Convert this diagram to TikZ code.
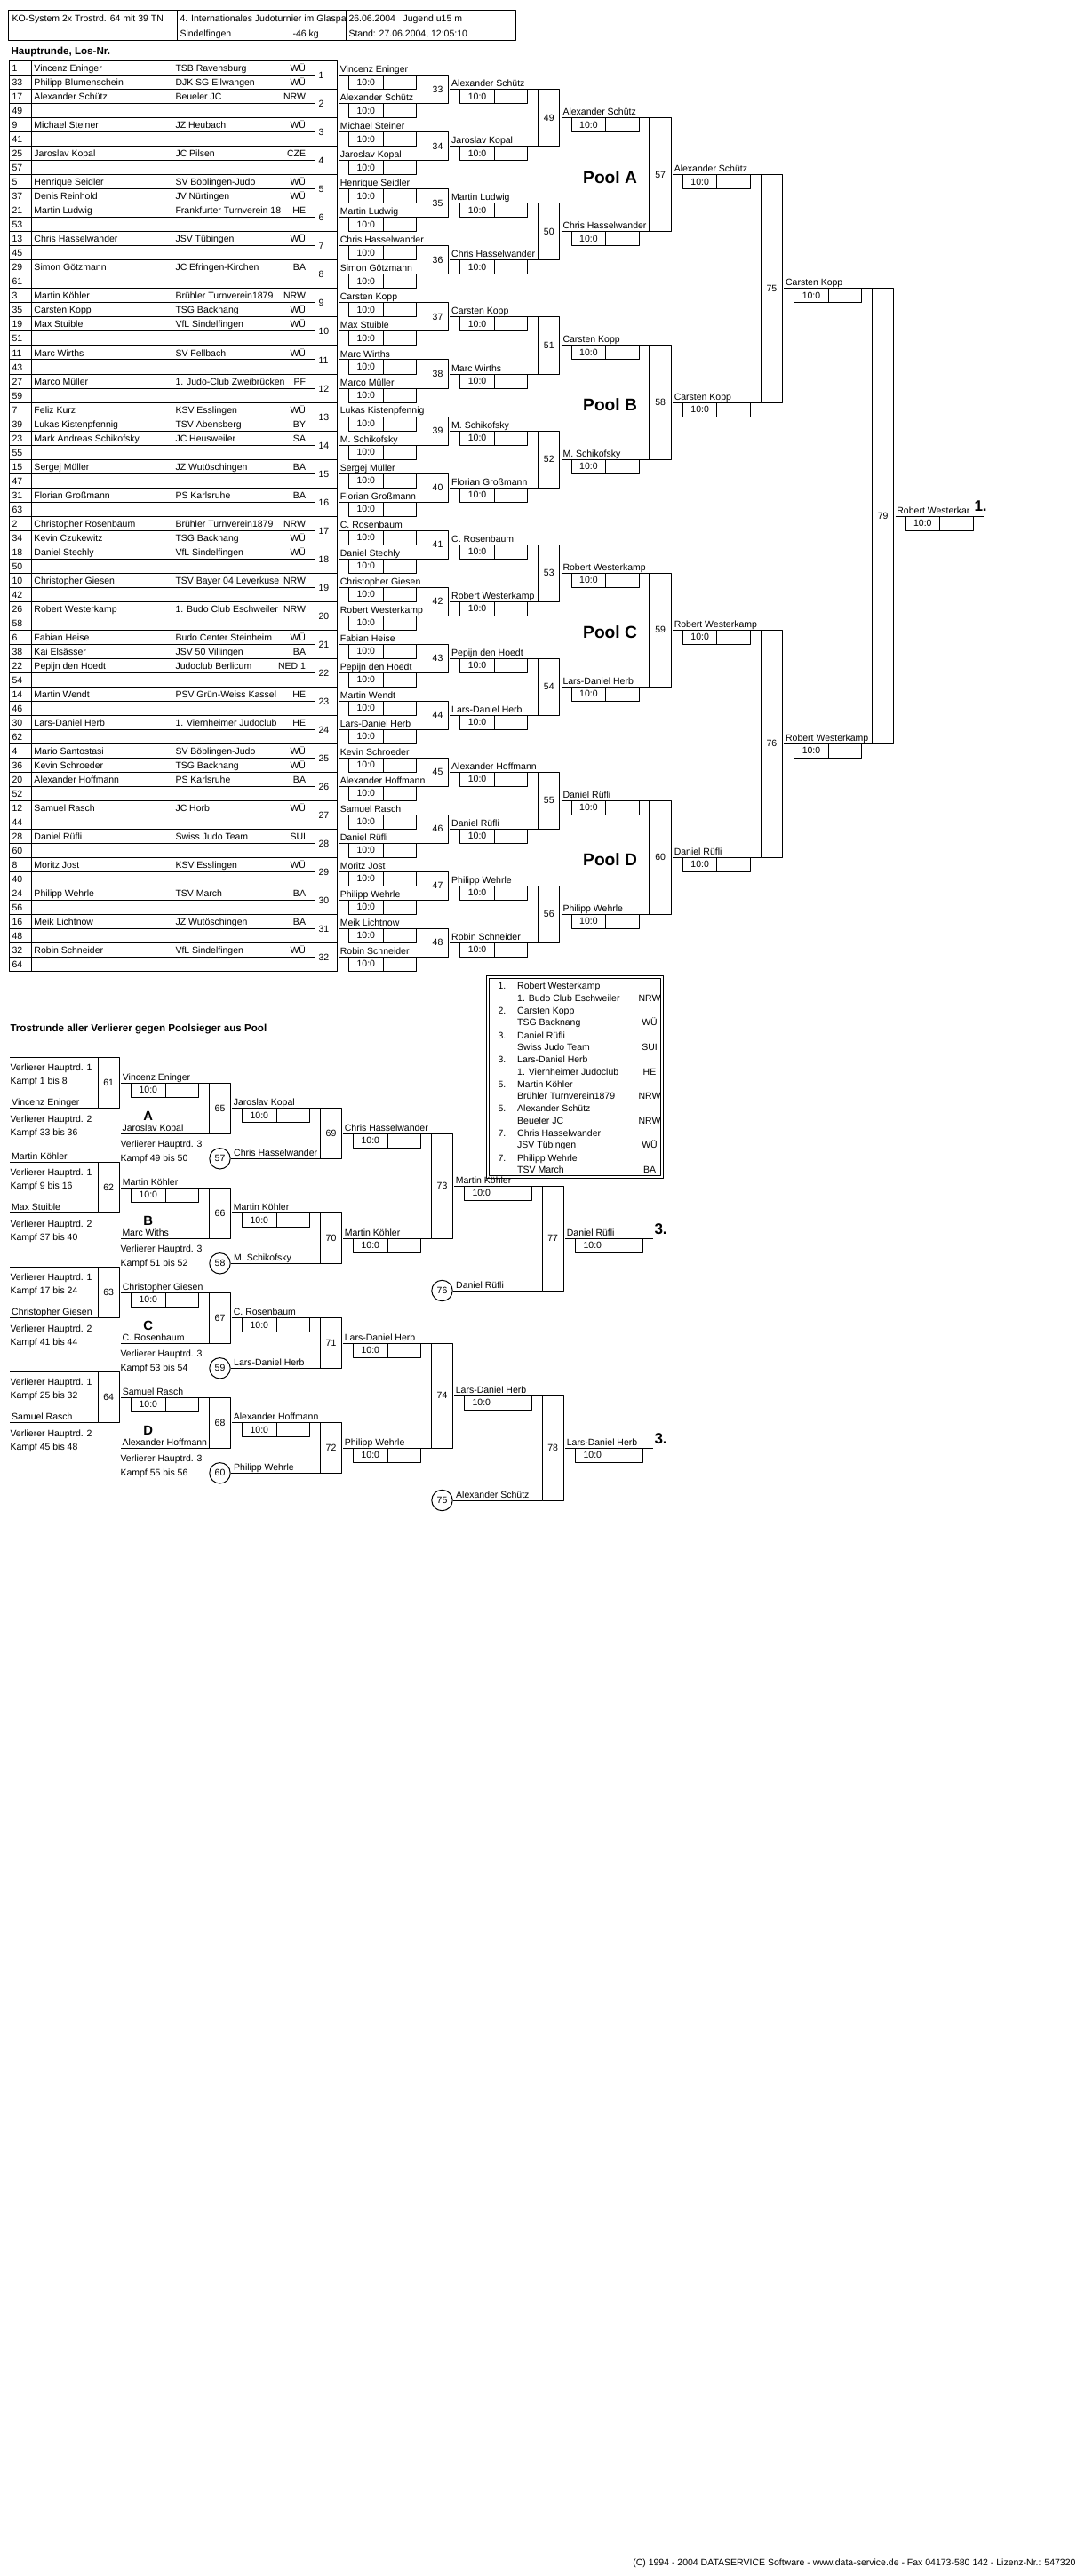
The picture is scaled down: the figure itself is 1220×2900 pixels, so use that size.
\documentclass[tikz,border=0pt]{standalone}
\usepackage{fontspec}
\setmainfont{Liberation Sans}
\begin{document}
\begin{tikzpicture}[x=0.5pt,y=-0.5pt,line width=0.5pt,line join=round,
	txt/.style={font=\fontsize{5.25}{6}\selectfont,inner sep=0pt},
	nm/.style={txt,anchor=base west},
	st/.style={txt,anchor=base east},
	ctr/.style={txt,anchor=center},
	kreis/.style={circle,draw,txt,minimum size=11.7pt},
	ttl/.style={font=\fontsize{5.8}{7}\selectfont\bfseries,inner sep=0pt,anchor=base west},
	pool/.style={font=\fontsize{9.6}{11}\selectfont\bfseries,inner sep=0pt,anchor=base west},
	grp/.style={font=\fontsize{7.4}{9}\selectfont\bfseries,inner sep=0pt,anchor=base},
	rank/.style={font=\fontsize{8.5}{10}\selectfont\bfseries,inner sep=0pt,anchor=base west}]
				\def \xa{381};
				\def \xb{506.3};
				\def \xc{631.6};
				\def \xd{756.9};
				\def \xe{882.2};
				\def \xf{1007.5};
				\def \bout#1#2#3#4{\draw (#1,#2) -- ++(99.3,0);
					\draw (#1+11.6,#2) rectangle ++(76,16) (#1+50,#2) -- ++(0,16);
					\node[nm] (#4) at (#1+1.4,#2-3) {#3};
					\node[ctr] (s#4) at (#1+30.8,#2+8.3) {10:0};}
				\useasboundingbox (0,0) rectangle (1220,2900);
				\draw (9,12) rectangle (580,46) (199,12) -- (199,46) (389,12) -- (389,46);
				\node[nm] (ko) at (13,25) {KO-System 2x Trostrd. 64 mit 39 TN};
				\begin{scope}
					\clip (199,12) rectangle (389,46);
					\node[nm] (turnier) at (202,25) {4. Internationales Judoturnier im Glaspa};
				\end{scope}
				\node[nm] (ort) at (202,42) {Sindelfingen};
				\node[nm] (gewicht) at (329,42) {-46 kg};
				\node[nm] (datum) at (392,25) {26.06.2004};
				\node[nm] (klasse) at (453,25) {Jugend u15 m};
				\node[nm] (stand) at (392,42) {Stand: 27.06.2004, 12:05:10};
				\node[ttl] (haupt) at (12,62) {Hauptrunde, Los-Nr.};
				\draw (10,69) rectangle (354,1093) (354,69) rectangle (379,1093) (35,69) -- (35,1093);
				\foreach \i in {1,...,63} \draw (10,69+16*\i) -- (354,69+16*\i);
				\foreach \i in {1,...,31} \draw (354,69+32*\i) -- (379,69+32*\i);
				\foreach \los/\tn/\club/\lv [count=\i from 0] in {1/Vincenz Eninger/TSB Ravensburg/WÜ, 33/Philipp Blumenschein/DJK SG Ellwangen/WÜ,
					17/Alexander Schütz/Beueler JC/NRW, 49///, 9/Michael Steiner/JZ Heubach/WÜ, 41///,
					25/Jaroslav Kopal/JC Pilsen/CZE, 57///, 5/Henrique Seidler/SV Böblingen-Judo/WÜ, 37/Denis Reinhold/JV Nürtingen/WÜ,
					21/Martin Ludwig/Frankfurter Turnverein 18/HE, 53///, 13/Chris Hasselwander/JSV Tübingen/WÜ, 45///,
					29/Simon Götzmann/JC Efringen-Kirchen/BA, 61///, 3/Martin Köhler/Brühler Turnverein1879/NRW, 35/Carsten Kopp/TSG Backnang/WÜ,
					19/Max Stuible/VfL Sindelfingen/WÜ, 51///, 11/Marc Wirths/SV Fellbach/WÜ, 43///,
					27/Marco Müller/1. Judo-Club Zweibrücken/PF, 59///, 7/Feliz Kurz/KSV Esslingen/WÜ, 39/Lukas Kistenpfennig/TSV Abensberg/BY,
					23/Mark Andreas Schikofsky/JC Heusweiler/SA, 55///, 15/Sergej Müller/JZ Wutöschingen/BA, 47///,
					31/Florian Großmann/PS Karlsruhe/BA, 63///, 2/Christopher Rosenbaum/Brühler Turnverein1879/NRW, 34/Kevin Czukewitz/TSG Backnang/WÜ,
					18/Daniel Stechly/VfL Sindelfingen/WÜ, 50///, 10/Christopher Giesen/TSV Bayer 04 Leverkuse/NRW, 42///,
					26/Robert Westerkamp/1. Budo Club Eschweiler/NRW, 58///, 6/Fabian Heise/Budo Center Steinheim/WÜ, 38/Kai Elsässer/JSV 50 Villingen/BA,
					22/Pepijn den Hoedt/Judoclub Berlicum/NED 1, 54///, 14/Martin Wendt/PSV Grün-Weiss Kassel/HE, 46///,
					30/Lars-Daniel Herb/1. Viernheimer Judoclub/HE, 62///, 4/Mario Santostasi/SV Böblingen-Judo/WÜ, 36/Kevin Schroeder/TSG Backnang/WÜ,
					20/Alexander Hoffmann/PS Karlsruhe/BA, 52///, 12/Samuel Rasch/JC Horb/WÜ, 44///,
					28/Daniel Rüfli/Swiss Judo Team/SUI, 60///, 8/Moritz Jost/KSV Esslingen/WÜ, 40///,
					24/Philipp Wehrle/TSV March/BA, 56///, 16/Meik Lichtnow/JZ Wutöschingen/BA, 48///,
					32/Robin Schneider/VfL Sindelfingen/WÜ, 64///}
				{\node[nm] (los\i) at (13,81+16*\i) {\los};
					\node[nm] (tn\i) at (38,81+16*\i) {\tn};
					\node[nm] (club\i) at (197,81+16*\i) {\club};
					\node[st] (lv\i) at (344.5,81+16*\i) {\lv};}
				\foreach \k in {1,...,32} \node[nm] (kp\k) at (358,57+32*\k) {\k};
				\foreach \w [count=\k from 0] in {Vincenz Eninger, Alexander Schütz, Michael Steiner, Jaroslav Kopal, Henrique Seidler,
					Martin Ludwig, Chris Hasselwander, Simon Götzmann, Carsten Kopp, Max Stuible, Marc Wirths, Marco Müller,
					Lukas Kistenpfennig, M. Schikofsky, Sergej Müller, Florian Großmann, C. Rosenbaum, Daniel Stechly,
					Christopher Giesen, Robert Westerkamp, Fabian Heise, Pepijn den Hoedt, Martin Wendt, Lars-Daniel Herb,
					Kevin Schroeder, Alexander Hoffmann, Samuel Rasch, Daniel Rüfli, Moritz Jost, Philipp Wehrle, Meik Lichtnow, Robin Schneider}
				{\bout{\xa}{85+32*\k}{\w}{ra\k}}
				\foreach \m [count=\k from 0] in {33,...,48}
				{\draw (\xa+99.3,85+64*\k) rectangle (\xa+123.6,117+64*\k);
					\node[ctr] (k\m) at (\xa+111.5,101+64*\k) {\m};}
				\foreach \w [count=\k from 0] in {Alexander Schütz, Jaroslav Kopal, Martin Ludwig, Chris Hasselwander, Carsten Kopp,
					Marc Wirths, M. Schikofsky, Florian Großmann, C. Rosenbaum, Robert Westerkamp, Pepijn den Hoedt,
					Lars-Daniel Herb, Alexander Hoffmann, Daniel Rüfli, Philipp Wehrle, Robin Schneider}
				{\bout{\xb}{101+64*\k}{\w}{rb\k}}
				\foreach \m [count=\k from 0] in {49,...,56}
				{\draw (\xb+99.3,101+128*\k) rectangle (\xb+123.6,165+128*\k);
					\node[ctr] (k\m) at (\xb+111.5,133+128*\k) {\m};}
				\foreach \w [count=\k from 0] in {Alexander Schütz, Chris Hasselwander, Carsten Kopp, M. Schikofsky,
					Robert Westerkamp, Lars-Daniel Herb, Daniel Rüfli, Philipp Wehrle}
				{\bout{\xc}{133+128*\k}{\w}{rc\k}}
				\foreach \m [count=\k from 0] in {57,...,60}
				{\draw (\xc+99.3,133+256*\k) rectangle (\xc+123.6,261+256*\k);
					\node[ctr] (k\m) at (\xc+111.5,197+256*\k) {\m};}
				\foreach \p [count=\k from 0] in {A,B,C,D} \node[pool] (pool\p) at (655.7,206.4+256*\k) {Pool \p};
				\foreach \w [count=\k from 0] in {Alexander Schütz, Carsten Kopp, Robert Westerkamp, Daniel Rüfli}
				{\bout{\xd}{197+256*\k}{\w}{rd\k}}
				\foreach \m [count=\k from 0] in {75,76}
				{\draw (\xd+99.3,197+512*\k) rectangle (\xd+123.6,453+512*\k);
					\node[ctr] (k\m) at (\xd+111.5,325+512*\k) {\m};}
				\foreach \w [count=\k from 0] in {Carsten Kopp, Robert Westerkamp}
				{\bout{\xe}{325+512*\k}{\w}{re\k}}
				\draw (\xe+99.3,325) rectangle (\xe+123.6,837);
				\node[ctr] (k79) at (\xe+111.5,581) {79};
				\bout{\xf}{581}{Robert Westerkar}{rf}
				\node[rank] (erster) at (1096,575.5) {1.};
				\node[ttl] (trost) at (11,1161) {Trostrunde aller Verlierer gegen Poolsieger aus Pool};
				\foreach \oben/\unten/\von/\bis/\vonb/\bisb [count=\i from 0] in {/Vincenz Eninger/1/8/33/36,
					Martin Köhler/Max Stuible/9/16/37/40, /Christopher Giesen/17/24/41/44, /Samuel Rasch/25/32/45/48}
				{\pgfmathsetmacro\off{118*\i}
					\pgfmathtruncatemacro\mn{61+\i}
					\draw (11,1190.7+\off) -- (110,1190.7+\off) (11,1247.3+\off) -- (110,1247.3+\off);
					\draw (110,1190.7+\off) rectangle (134.3,1247.3+\off);
					\node[ctr] (k\mn) at (122.2,1219+\off) {\mn};
					\node[nm] (vo\i) at (12.7,1187.7+\off) {\oben};
					\node[nm] (va\i) at (11,1205.5+\off) {Verlierer Hauptrd. 1};
					\node[nm] (vb\i) at (11,1220+\off) {Kampf \von{} bis \bis};
					\node[nm] (vu\i) at (12.7,1244.3+\off) {\unten};
					\node[nm] (vc\i) at (11,1263+\off) {Verlierer Hauptrd. 2};
					\node[nm] (vd\i) at (11,1278+\off) {Kampf \vonb{} bis \bisb};}
				\foreach \sa/\geg/\gr/\von/\bis/\sb [count=\i from 0] in {Vincenz Eninger/Jaroslav Kopal/A/49/50/Jaroslav Kopal,
					Martin Köhler/Marc Withs/B/51/52/Martin Köhler, Christopher Giesen/C. Rosenbaum/C/53/54/C. Rosenbaum,
					Samuel Rasch/Alexander Hoffmann/D/55/56/Alexander Hoffmann}
				{\pgfmathsetmacro\off{118*\i}
					\pgfmathtruncatemacro\mn{65+\i}
					\bout{136}{1219+\off}{\sa}{ta\i}
					\draw (136,1276+\off) -- (235.7,1276+\off);
					\node[nm] (tg\i) at (137,1273+\off) {\geg};
					\node[grp] (tl\i) at (166.8,1261.7+\off) {\gr};
					\node[nm] (th\i) at (135,1291+\off) {Verlierer Hauptrd. 3};
					\node[nm] (tk\i) at (135,1307+\off) {Kampf \von{} bis \bis};
					\draw (235.7,1219+\off) rectangle (259.3,1276+\off);
					\node[ctr] (k\mn) at (247.5,1247.5+\off) {\mn};
					\bout{261}{1247.7+\off}{\sb}{tb\i}}
				\foreach \kr/\geg/\sc [count=\i from 0] in {57/Chris Hasselwander/Chris Hasselwander, 58/M. Schikofsky/Martin Köhler,
					59/Lars-Daniel Herb/Lars-Daniel Herb, 60/Philipp Wehrle/Philipp Wehrle}
				{\pgfmathsetmacro\off{118*\i}
					\pgfmathtruncatemacro\mn{69+\i}
					\node[kreis] (c\kr) at (247.5,1304.3+\off) {\kr};
					\draw (c\kr.east) -- (360.7,1304.3+\off);
					\node[nm] (tp\i) at (262.7,1301.3+\off) {\geg};
					\draw (360.7,1247.7+\off) rectangle (384.3,1304.3+\off);
					\node[ctr] (k\mn) at (372.5,1276+\off) {\mn};
					\bout{386}{1276+\off}{\sc}{tc\i}}
				\foreach \sd/\kr/\geg/\se [count=\i from 0] in {Martin Köhler/76/Daniel Rüfli/Daniel Rüfli,
					Lars-Daniel Herb/75/Alexander Schütz/Lars-Daniel Herb}
				{\pgfmathsetmacro\off{236*\i}
					\pgfmathtruncatemacro\mn{73+\i}
					\pgfmathtruncatemacro\mnb{77+\i}
					\draw (485.7,1276+\off) rectangle (509.3,1394+\off);
					\node[ctr] (k\mn) at (497.5,1335+\off) {\mn};
					\bout{511}{1335+\off}{\sd}{td\i}
					\node[kreis] (c\kr) at (497.5,1453+\off) {\kr};
					\draw (c\kr.east) -- (610,1453+\off);
					\node[nm] (tq\i) at (512.7,1450+\off) {\geg};
					\draw (610,1335+\off) rectangle (634.3,1453+\off);
					\node[ctr] (k\mnb) at (622.2,1394+\off) {\mnb};
					\bout{636}{1394+\off}{\se}{tz\i}
					\node[rank] (dritter\i) at (736,1389+\off) {3.};}
				\draw (547.5,1098.3) rectangle (746.5,1326.3);
				\draw (550.2,1101) rectangle (743.8,1323.6);
				\foreach \pl/\wer/\ver/\lv [count=\i from 0] in {1./Robert Westerkamp/1. Budo Club Eschweiler/NRW,
					2./Carsten Kopp/TSG Backnang/WÜ, 3./Daniel Rüfli/Swiss Judo Team/SUI, 3./Lars-Daniel Herb/1. Viernheimer Judoclub/HE,
					5./Martin Köhler/Brühler Turnverein1879/NRW, 5./Alexander Schütz/Beueler JC/NRW,
					7./Chris Hasselwander/JSV Tübingen/WÜ, 7./Philipp Wehrle/TSV March/BA}
				{\node[nm] (pl\i) at (560,1113.8+27.6*\i) {\pl};
					\node[nm] (pn\i) at (581.7,1113.8+27.6*\i) {\wer};
					\node[nm] (pv\i) at (581.7,1127.3+27.6*\i) {\ver};
					\node[txt,anchor=base] (pw\i) at (731,1127.3+27.6*\i) {\lv};}
				\node[st] (copy) at (1211,2888) {(C) 1994 - 2004 DATASERVICE Software - www.data-service.de - Fax 04173-580 142 - Lizenz-Nr.: 547320};
			\end{tikzpicture}
\end{document}
